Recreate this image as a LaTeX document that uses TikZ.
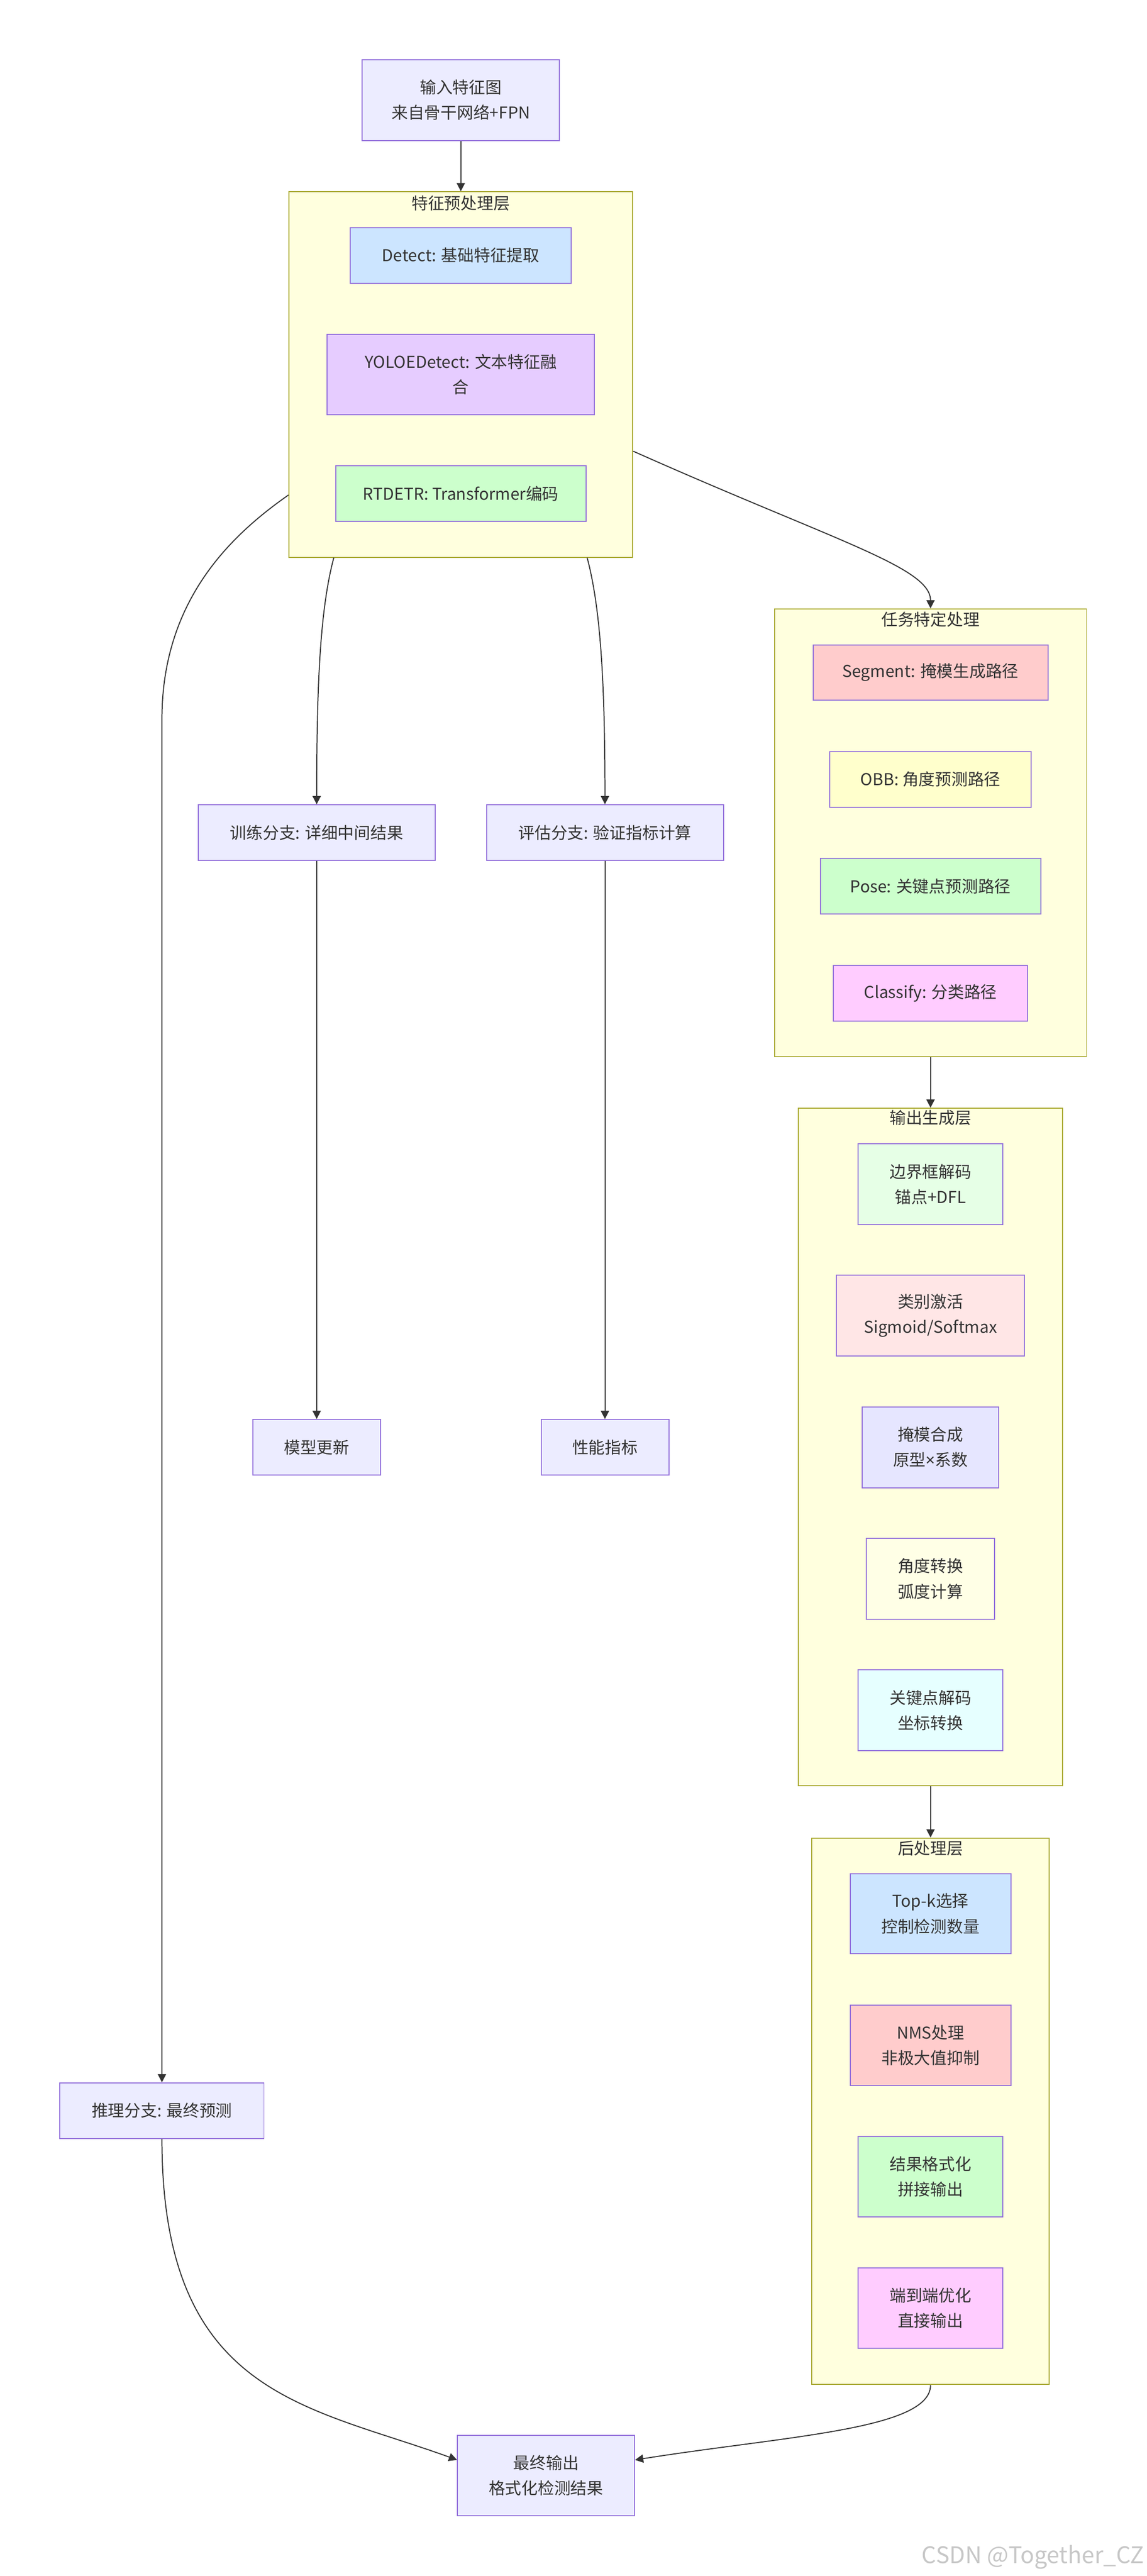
\documentclass[tikz,border=0pt]{standalone}
\usepackage{fontspec}
\setmainfont{Noto Sans CJK SC}
\newfontfamily\latinfont{Noto Sans}
\usetikzlibrary{arrows.meta,positioning}
\definecolor{mmdnode}{HTML}{ECECFF}
\definecolor{mmdline}{HTML}{9370DB}
\definecolor{mmdtext}{HTML}{333333}
\definecolor{layerfill}{HTML}{FFFFDE}
\definecolor{layerline}{HTML}{AAAA33}
\definecolor{detectblue}{HTML}{CCE5FF}
\definecolor{yoloepurple}{HTML}{E6CCFF}
\definecolor{rtdetrgreen}{HTML}{CCFFCC}
\definecolor{segred}{HTML}{FFCCCC}
\definecolor{obbyellow}{HTML}{FFFFCC}
\definecolor{posegreen}{HTML}{CCFFCC}
\definecolor{clspink}{HTML}{FFCCFF}
\definecolor{bboxgreen}{HTML}{E6FFE6}
\definecolor{actred}{HTML}{FFE6E6}
\definecolor{maskblue}{HTML}{E6E6FF}
\definecolor{angleyellow}{HTML}{FFFFE6}
\definecolor{kptcyan}{HTML}{E6FFFF}

\begin{document}
\begin{tikzpicture}[
    font=\fontsize{13.6pt}{21pt}\selectfont,
    box/.style={draw=mmdline, line width=0.85pt, fill=mmdnode, text=mmdtext, align=center, inner sep=0pt, minimum height=1.62cm},
    layer/.style={draw=layerline, line width=0.85pt, fill=layerfill, inner sep=0pt},
    layertitle/.style={text=mmdtext, inner sep=0pt},
    flow/.style={draw=mmdtext, line width=0.85pt, -{Triangle[length=0.24cm,width=0.24cm]}}
  ]
      \useasboundingbox (0,0) rectangle (33.49,-75.22);

      % Layers (drawn first, as background)
      \node[layer, minimum width=10.04cm, minimum height=10.67cm] (pre) at (13.46,-10.935) {};
      \node[layertitle] at ([yshift=-0.35cm]pre.north) {特征预处理层};
      \node[layer, minimum width=9.11cm, minimum height=13.08cm] (task) at (27.18,-24.32) {};
      \node[layertitle] at ([yshift=-0.32cm]task.north) {任务特定处理};
      \node[layer, minimum width=7.72cm, minimum height=19.78cm] (gen) at (27.18,-42.25) {};
      \node[layertitle] at ([yshift=-0.30cm]gen.north) {输出生成层};
      \node[layer, minimum width=6.94cm, minimum height=15.96cm] (post) at (27.18,-61.65) {};
      \node[layertitle] at ([yshift=-0.31cm]post.north) {后处理层};

      % Input
      \node[box, minimum width=5.76cm, minimum height=2.36cm] (input) at (13.46,-2.92) {输入特征图\\来自骨干网络+FPN};

      % Feature preprocessing
      \node[box, fill=detectblue, minimum width=6.46cm] (detect) at (13.46,-7.46) {Detect: 基础特征提取};
      \node[box, fill=yoloepurple, minimum width=7.81cm, minimum height=2.34cm] (yoloe) at (13.46,-10.94) {YOLOEDetect: 文本特征融\\合};
      \node[box, fill=rtdetrgreen, minimum width=7.31cm] (rtdetr) at (13.46,-14.41) {RTDETR: Transformer编码};

      % Branches
      \node[box, minimum width=6.92cm] (train) at (9.25,-24.31) {训练分支: 详细中间结果};
      \node[box, minimum width=6.92cm] (eval) at (17.67,-24.31) {评估分支: 验证指标计算};
      \node[box, minimum width=3.73cm] (update) at (9.25,-42.26) {模型更新};
      \node[box, minimum width=3.73cm] (metric) at (17.67,-42.26) {性能指标};
      \node[box, minimum width=5.96cm] (infer) at (4.73,-61.63) {推理分支: 最终预测};
      \node[box, minimum width=5.17cm, minimum height=2.35cm] (final) at (15.95,-72.28) {最终输出\\格式化检测结果};

      % Task specific
      \node[box, fill=segred, minimum width=6.86cm] (segment) at (27.18,-19.64) {Segment: 掩模生成路径};
      \node[box, fill=obbyellow, minimum width=5.88cm] (obb) at (27.18,-22.76) {OBB: 角度预测路径};
      \node[box, fill=posegreen, minimum width=6.44cm] (pose) at (27.18,-25.88) {Pose: 关键点预测路径};
      \node[box, fill=clspink, minimum width=5.67cm] (classify) at (27.18,-29.00) {Classify: 分类路径};

      % Output generation
      \node[box, fill=bboxgreen, minimum width=4.22cm, minimum height=2.36cm] (bbox) at (27.18,-34.58) {边界框解码\\锚点+DFL};
      \node[box, fill=actred, minimum width=5.49cm, minimum height=2.36cm] (act) at (27.18,-38.42) {类别激活\\Sigmoid/Softmax};
      \node[box, fill=maskblue, minimum width=3.99cm, minimum height=2.36cm] (mask) at (27.18,-42.26) {掩模合成\\原型{\latinfont ×}系数};
      \node[box, fill=angleyellow, minimum width=3.74cm, minimum height=2.36cm] (angle) at (27.18,-46.10) {角度转换\\弧度计算};
      \node[box, fill=kptcyan, minimum width=4.22cm, minimum height=2.36cm] (kpt) at (27.18,-49.94) {关键点解码\\坐标转换};

      % Post processing
      \node[box, fill=detectblue, minimum width=4.69cm, minimum height=2.34cm] (topk) at (27.18,-55.88) {Top-k选择\\控制检测数量};
      \node[box, fill=segred, minimum width=4.69cm, minimum height=2.34cm] (nms) at (27.18,-59.72) {NMS处理\\非极大值抑制};
      \node[box, fill=posegreen, minimum width=4.22cm, minimum height=2.34cm] (fmt) at (27.18,-63.56) {结果格式化\\拼接输出};
      \node[box, fill=clspink, minimum width=4.22cm, minimum height=2.34cm] (e2e) at (27.18,-67.40) {端到端优化\\直接输出};

      % Connectors
      \draw[flow] (input) -- (pre);
      \draw[flow] ([yshift=-2.24cm]pre.east) .. controls +(-24:6.5) and +(0,1.2) .. (task.north);
      \draw[flow] ([xshift=-3.71cm]pre.south) .. controls +(-0.4,-1.5) and +(0,3.5) .. (train.north);
      \draw[flow] ([xshift=3.69cm]pre.south) .. controls +(0.4,-1.5) and +(0,3.5) .. (eval.north);
      \draw[flow] ([yshift=-3.52cm]pre.west) .. controls +(215:2.0) and +(0,3.5) .. (infer.north |- 0,-21) -- (infer.north);
      \draw[flow] (train) -- (update);
      \draw[flow] (eval) -- (metric);
      \draw[flow] (task) -- (gen);
      \draw[flow] (gen) -- (post);
      \draw[flow] (infer.south) .. controls +(0,-7.5) and +(-4.4,1.6) .. ([yshift=0.45cm]final.west);
      \draw[flow] (post.south) .. controls +(0,-1.3) and +(4.4,0.7) .. ([yshift=0.45cm]final.east);

      % Watermark
      \node[anchor=east, text=black!22, inner sep=0pt, font=\fontsize{19pt}{19pt}\selectfont] (mark) at (33.43,-74.67) {CSDN @Together\_CZ};
    \end{tikzpicture}
\end{document}
